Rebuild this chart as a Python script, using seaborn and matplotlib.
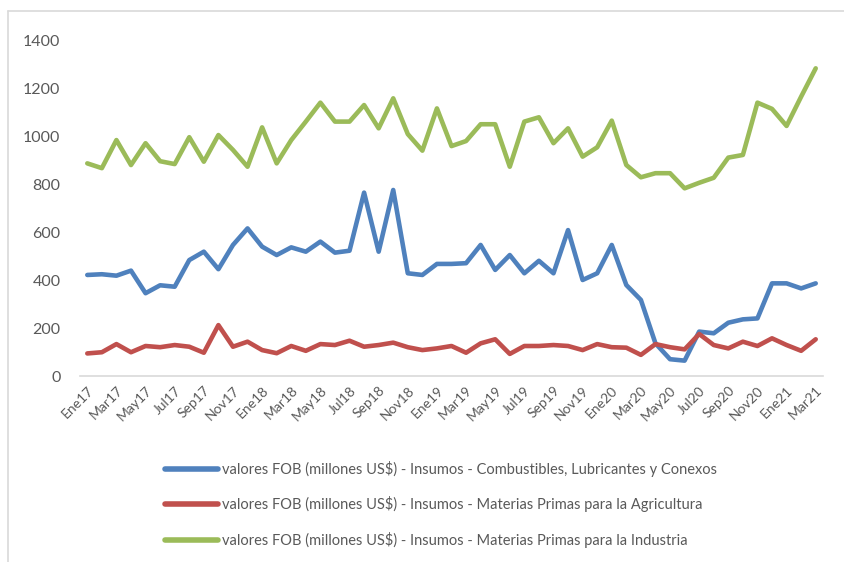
import matplotlib
matplotlib.use("Agg")
import matplotlib.pyplot as plt
import seaborn as sns
import pandas as pd
from matplotlib.lines import Line2D

sns.set_theme(style="white")
plt.rcParams['font.family'] = ['Lato', 'DejaVu Sans']

months = ["Ene", "Feb", "Mar", "Abr", "May", "Jun", "Jul", "Ago", "Sep", "Oct", "Nov", "Dic"]
periods = [f"{m}{y}" for y in ["17", "18", "19", "20", "21"] for m in months][:51]

combustibles = [421, 424, 418, 439, 345, 378, 372, 483, 518, 445,
                546, 615, 539, 504, 536, 518, 560, 514, 522, 764,
                518, 775, 428, 421, 467, 467, 470, 546, 442, 504,
                428, 480, 428, 608, 400, 428, 546, 379, 317, 136,
                70, 64, 185, 178, 222, 236, 240, 386, 386, 365, 386]
agricultura = [94, 99, 133, 99, 125, 120, 129, 122, 97, 212,
               122, 143, 108, 95, 125, 105, 133, 129, 147, 122,
               129, 139, 120, 108, 115, 125, 97, 136, 153, 92,
               125, 125, 129, 125, 108, 133, 120, 118, 88, 133,
               120, 111, 175, 129, 115, 143, 125, 157, 129, 105, 153]
industria = [886, 866, 983, 879, 970, 895, 883, 995, 893, 1004,
             942, 872, 1036, 886, 983, 1060, 1139, 1060, 1060, 1129,
             1032, 1157, 1008, 939, 1115, 958, 979, 1049, 1049, 872,
             1060, 1078, 970, 1032, 914, 953, 1064, 879, 828, 845,
             845, 782, 805, 826, 910, 921, 1139, 1113, 1042, 1164, 1282]

series_names = [
    "valores FOB (millones US$) - Insumos - Combustibles, Lubricantes y Conexos",
    "valores FOB (millones US$) - Insumos - Materias Primas para la Agricultura",
    "valores FOB (millones US$) - Insumos - Materias Primas para la Industria",
]
colors = ["#4F81BD", "#C0504D", "#9BBB59"]
yticks = [0, 200, 400, 600, 800, 1000, 1200, 1400]

rows = []
for name, vals in zip(series_names, [combustibles, agricultura, industria]):
    for i, v in enumerate(vals):
        rows.append({"idx": i, "periodo": periods[i], "valor": v, "serie": name})
df = pd.DataFrame(rows)

fig = plt.figure(figsize=(8.45, 5.62), dpi=100)
ax = fig.add_axes([80 / 845, 1 - 376 / 562, (823 - 80) / 845, (376 - 40) / 562])

sns.lineplot(data=df, x="idx", y="valor", hue="serie", palette=dict(zip(series_names, colors)),
             linewidth=3.3, ax=ax, legend=False, solid_capstyle="round", solid_joinstyle="round")

ax.set_xlim(-0.5, 50.5)
ax.set_ylim(0, 1400)
ax.set_yticks(yticks)
ax.set_yticklabels([str(t) for t in yticks], fontsize=11.5, color="#595959")
ax.set_xticks(list(range(0, 51, 2)))
ax.set_xticklabels(periods[::2], rotation=45, ha="right", rotation_mode="anchor",
                   fontsize=10, color="#595959")
ax.tick_params(axis="both", length=0, pad=6)
ax.tick_params(axis="y", pad=14)
ax.set_xlabel("")
ax.set_ylabel("")
for s in ["top", "right", "left"]:
    ax.spines[s].set_visible(False)
ax.spines["bottom"].set_color("#D9D9D9")
ax.spines["bottom"].set_linewidth(1.2)
ax.grid(False)

handles = [Line2D([0], [0], color=c, lw=4, solid_capstyle="round") for c in colors]
fig.legend(handles, series_names, loc="upper left", bbox_to_anchor=(152 / 845, 1 - 448 / 562),
           frameon=False, fontsize=10.5, labelcolor="#595959", handlelength=3.6,
           handletextpad=0.3, labelspacing=1.32)

# chart-area border (left and top edges visible)
fig.add_artist(Line2D([8.5 / 845, 8.5 / 845], [0, 1 - 10.5 / 562], transform=fig.transFigure,
                      color="#D9D9D9", lw=1.2))
fig.add_artist(Line2D([8.5 / 845, 1], [1 - 10.5 / 562, 1 - 10.5 / 562], transform=fig.transFigure,
                      color="#D9D9D9", lw=1.2))

fig.savefig("out.png", dpi=100)
